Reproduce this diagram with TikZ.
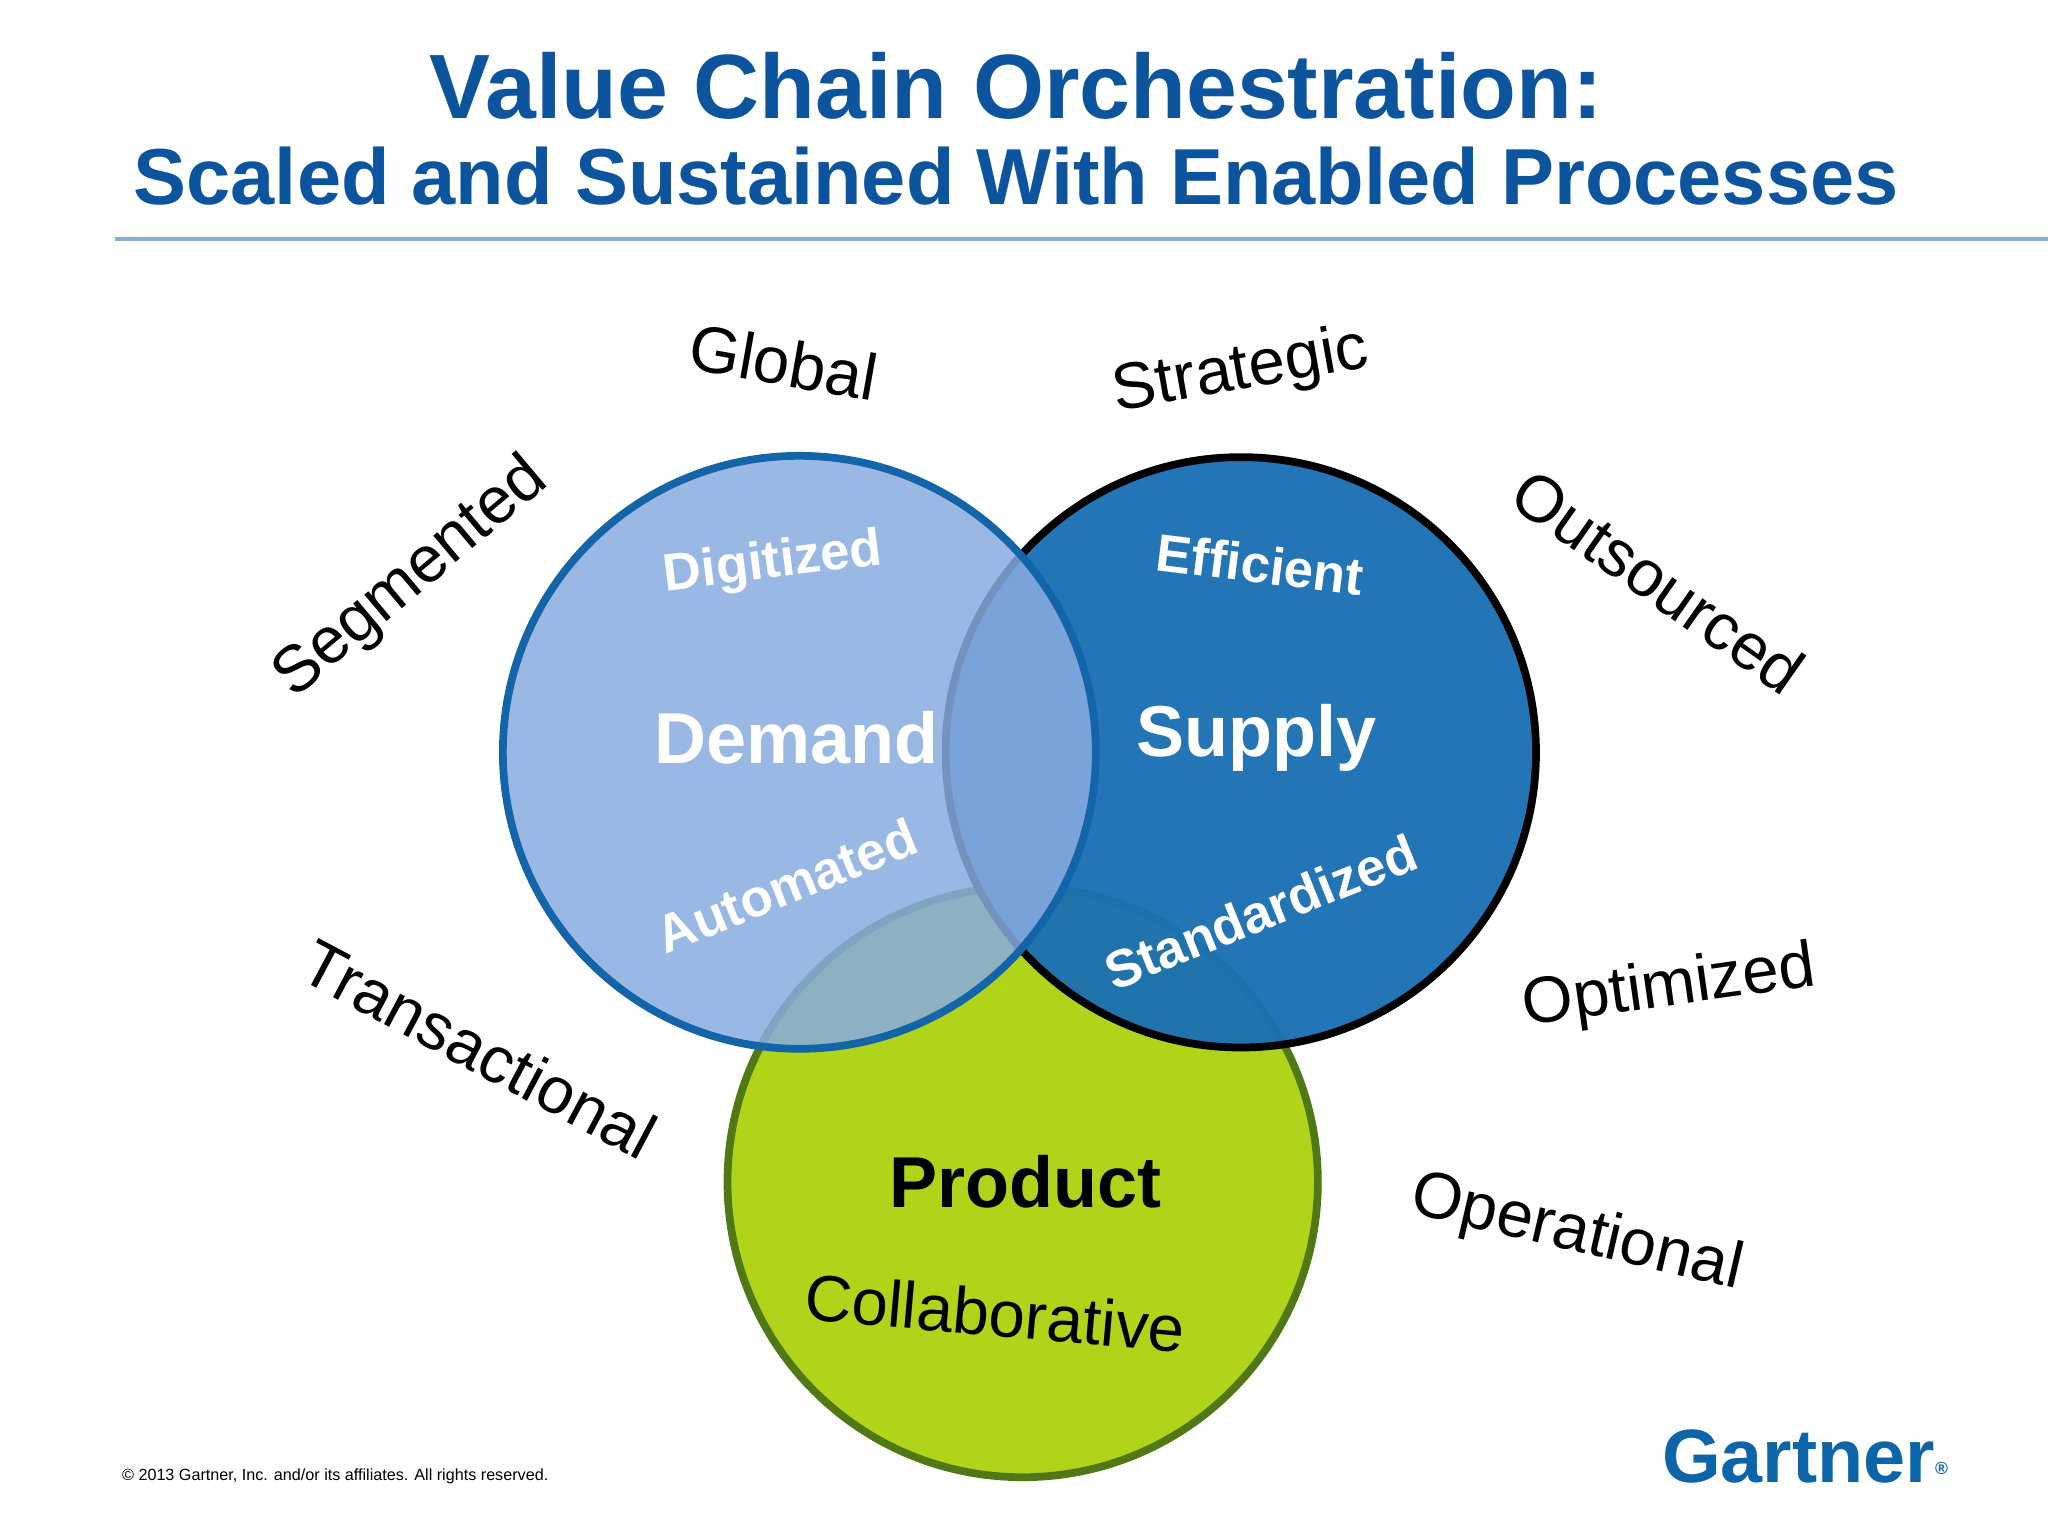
\documentclass[tikz,border=0pt]{standalone}
\usepackage{fontspec}
\setmainfont{Liberation Sans}
\usetikzlibrary{positioning}
\definecolor{gblue}{RGB}{12,84,158}
\definecolor{demandfill}{RGB}{136,172,224}
\definecolor{demandline}{RGB}{20,100,170}
\definecolor{supplyfill}{RGB}{28,112,178}
\definecolor{productfill}{RGB}{176,212,26}
\definecolor{productline}{RGB}{80,120,20}
\definecolor{rulecol}{RGB}{140,175,220}
\begin{document}
\begin{tikzpicture}[x=0.01306cm, y=-0.01306cm,
    outer/.style={font=\fontsize{18.6}{22}\selectfont, text=black},
    inner/.style={font=\fontsize{15}{18}\selectfont\bfseries, text=white},
    big/.style={font=\fontsize{20.5}{24}\selectfont\bfseries}]
  \useasboundingbox (0,0) rectangle (1568,1176);
  \fill[white] (0,0) rectangle (1568,1176);
  % title
  \node[text=gblue, font=\fontsize{26}{30}\selectfont\bfseries] (title) at (778,66) {Value Chain Orchestration:};
  \node[text=gblue, font=\fontsize{22.6}{26}\selectfont\bfseries] (subtitle) at (778,135) {Scaled and Sustained With Enabled Processes};
  \draw[rulecol, line width=1.2pt] (88,183) -- (1568,183);
  % circles
  \filldraw[fill=productfill, draw=productline, line width=2.2pt] (783,905) circle (226);
  \filldraw[fill=supplyfill, fill opacity=0.96, draw=black, line width=2.2pt] (950,576) circle (226);
  \filldraw[fill=demandfill, fill opacity=0.85, draw=demandline, line width=2.2pt] (612,576) circle (227);
  % labels in circles
  \node[big, text=white] (demand) at (610,565) {Demand};
  \node[big, text=white] (supply) at (962,565) {Supply};
  \node[big, text=black] (product) at (785,905) {Product};
  \node[inner, rotate=7] (digitized) at (592,432) {Digitized};
  \node[inner, rotate=-7] (efficient) at (965,432) {Efficient};
  \node[inner, rotate=22] (automated) at (602,678) {Automated};
  \node[inner, rotate=22] (standardized) at (965,698) {Standardized};
  \node[outer, rotate=-5] (collaborative) at (762,1005) {Collaborative};
  % outer words
  \node[outer, rotate=-10] (global) at (600,277) {Global};
  \node[outer, rotate=10] (strategic) at (950,285) {Strategic};
  \node[outer, rotate=40] (segmented) at (315,443) {Segmented};
  \node[outer, rotate=-35] (outsourced) at (1270,445) {Outsourced};
  \node[outer, rotate=-28] (transactional) at (367,803) {Transactional};
  \node[outer, rotate=8] (optimized) at (1278,757) {Optimized};
  \node[outer, rotate=-13] (operational) at (1207,945) {Operational};
  % footer
  \node[anchor=west, font=\fontsize{4.6}{5}\selectfont] (copy) at (84,1130) {© 2013 Gartner, Inc. and/or its affiliates. All rights reserved.};
  \node[text=gblue!90!cyan, font=\fontsize{21.5}{26}\selectfont\bfseries] (gartner) at (1382,1115) {Gartner\raisebox{0.2ex}{\fontsize{5}{5}\selectfont ®}};
\end{tikzpicture}
\end{document}
